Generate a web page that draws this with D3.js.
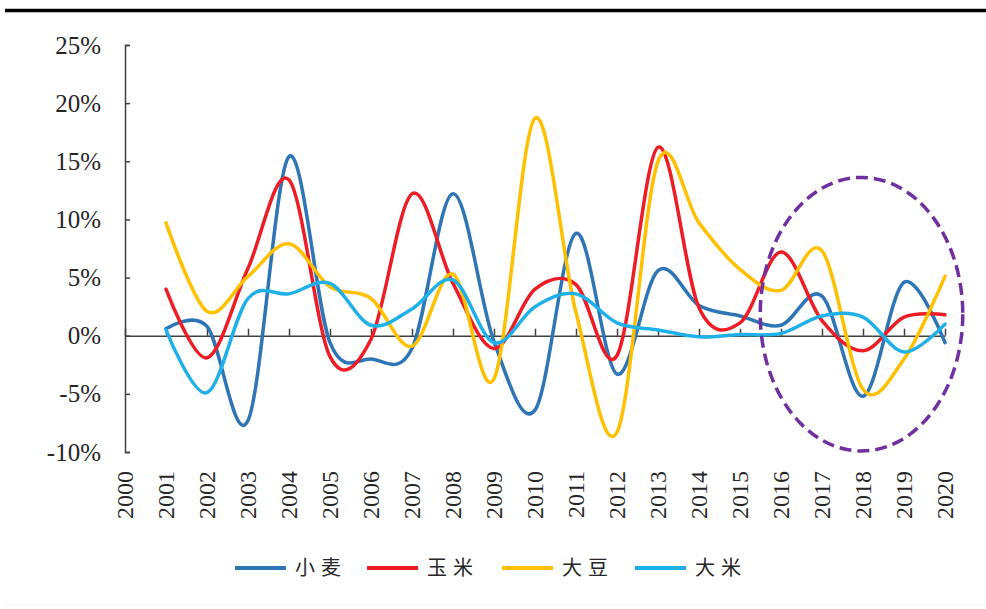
<!DOCTYPE html>
<html>
<head>
<meta charset="utf-8">
<script src="https://cdn.jsdelivr.net/npm/d3@7/dist/d3.min.js"></script>
<style>
  html, body { margin: 0; padding: 0; background: #ffffff; }
  svg { display: block; }
</style>
</head>
<body>
<script>
// ---- data ----
const axisYears = ["2000","2001","2002","2003","2004","2005","2006","2007","2008","2009","2010",
                   "2011","2012","2013","2014","2015","2016","2017","2018","2019","2020"];
const dataYears = ["2001","2002","2003","2004","2005","2006","2007","2008","2009","2010",
                   "2011","2012","2013","2014","2015","2016","2017","2018","2019","2020"];
const wheat   = [0.6, 0.8, -7.3, 15.4, -0.6, -2.0, -1.1, 12.2, -0.5, -6.4, 8.8, -3.3, 5.6, 2.6, 1.7, 0.9, 3.4, -5.2, 4.6, -0.6];
const corn    = [4.0, -1.9, 5.8, 13.4, -1.8, -0.3, 12.2, 4.5, -1.1, 4.0, 4.4, -1.7, 16.2, 2.4, 1.1, 7.2, 1.3, -1.3, 1.6, 1.8];
const soybean = [9.7, 2.1, 5.1, 7.9, 4.2, 3.2, -0.9, 5.3, -3.7, 18.7, 2.0, -8.3, 15.0, 9.7, 5.7, 3.9, 7.3, -4.6, -2.0, 5.1];
const rice    = [0.5, -4.9, 3.2, 3.6, 4.5, 0.9, 2.3, 4.8, -0.6, 2.5, 3.6, 1.1, 0.5, -0.1, 0.1, 0.2, 1.7, 1.6, -1.4, 1.0];
const seriesNames = ["小麦", "玉米", "大豆", "大米"];
const yTicks = [25, 20, 15, 10, 5, 0, -5, -10];
const colors = ["#2E75B6", "#EE1C25", "#FFC000", "#1FB0E8"];

const W = 986, H = 609;
const svg = d3.select("body").append("svg").attr("width", W).attr("height", H);

// top rule
svg.append("line").attr("x1", 5).attr("x2", W).attr("y1", 10.5).attr("y2", 10.5)
  .attr("stroke", "#000").attr("stroke-width", 3.5);
// faint bottom rule
svg.append("line").attr("x1", 5).attr("x2", W).attr("y1", 605).attr("y2", 605)
  .attr("stroke", "#f2f2f2").attr("stroke-width", 1);

const x = d3.scalePoint().domain(axisYears).range([125, 945]);
const y = d3.scaleLinear().domain([-10, 25]).range([452, 45]);

const axisColor = "#404040";

// y axis
const yAxis = d3.axisLeft(y).tickValues(yTicks).tickSize(-5).tickPadding(24)
  .tickFormat(d => d + "%");
const gy = svg.append("g").attr("transform", "translate(125,0)").call(yAxis);
gy.select(".domain").attr("stroke", axisColor).attr("stroke-width", 1.5);
gy.selectAll(".tick line").attr("stroke", axisColor).attr("stroke-width", 1.5);
gy.selectAll(".tick text")
  .attr("font-family", "'Liberation Serif', 'Times New Roman', serif")
  .attr("font-size", 25).attr("fill", "#262626");

// x axis at 0
const xAxis = d3.axisBottom(x).tickSize(-7).tickSizeOuter(0).tickFormat("");
const gx = svg.append("g").attr("transform", `translate(0,${y(0)})`).call(xAxis);
gx.select(".domain").attr("stroke", axisColor).attr("stroke-width", 1.5);
gx.selectAll(".tick line").attr("stroke", axisColor).attr("stroke-width", 1.5);

// x labels (rotated)
svg.append("g").selectAll("text").data(axisYears).join("text")
  .attr("transform", d => `translate(${x(d)},471) rotate(-90)`)
  .attr("text-anchor", "end")
  .attr("dy", "0.33em")
  .attr("font-family", "'Liberation Serif', 'Times New Roman', serif")
  .attr("font-size", 24).attr("fill", "#262626")
  .text(d => d);

// lines
const allSeries = [wheat, corn, soybean, rice];
const line = d3.line()
  .x((d, i) => x(dataYears[i]))
  .y(d => y(d))
  .curve(d3.curveCatmullRom.alpha(0));

svg.append("g").selectAll("path").data(allSeries).join("path")
  .attr("d", d => line(d))
  .attr("fill", "none")
  .attr("stroke", (d, i) => colors[i])
  .attr("stroke-width", 3.5)
  .attr("stroke-linejoin", "round")
  .attr("stroke-linecap", "round");

// dashed annotation ellipse around 2016-2020
const step = x.step();
svg.append("ellipse")
  .attr("cx", x("2018") - 1.5)
  .attr("cy", y(1.85))
  .attr("rx", step * 2.47)
  .attr("ry", y(-10) - y(1.85) - 1)
  .attr("fill", "none")
  .attr("stroke", "#7030A0")
  .attr("stroke-width", 3.5)
  .attr("stroke-dasharray", "12,6");

// legend
const legendX = [235, 367, 502, 635];
const lg = svg.append("g").selectAll("g").data(seriesNames).join("g")
  .attr("transform", (d, i) => `translate(${legendX[i]},568)`);
lg.append("line").attr("x1", 0).attr("x2", 51).attr("y1", 0).attr("y2", 0)
  .attr("stroke", (d, i) => colors[i]).attr("stroke-width", 4);
lg.append("text").attr("x", 60).attr("y", 0).attr("dy", "0.36em")
  .attr("font-family", "'Noto Sans CJK SC', sans-serif")
  .attr("font-size", 20).attr("letter-spacing", 6).attr("fill", "#262626")
  .text(d => d);
</script>
</body>
</html>
